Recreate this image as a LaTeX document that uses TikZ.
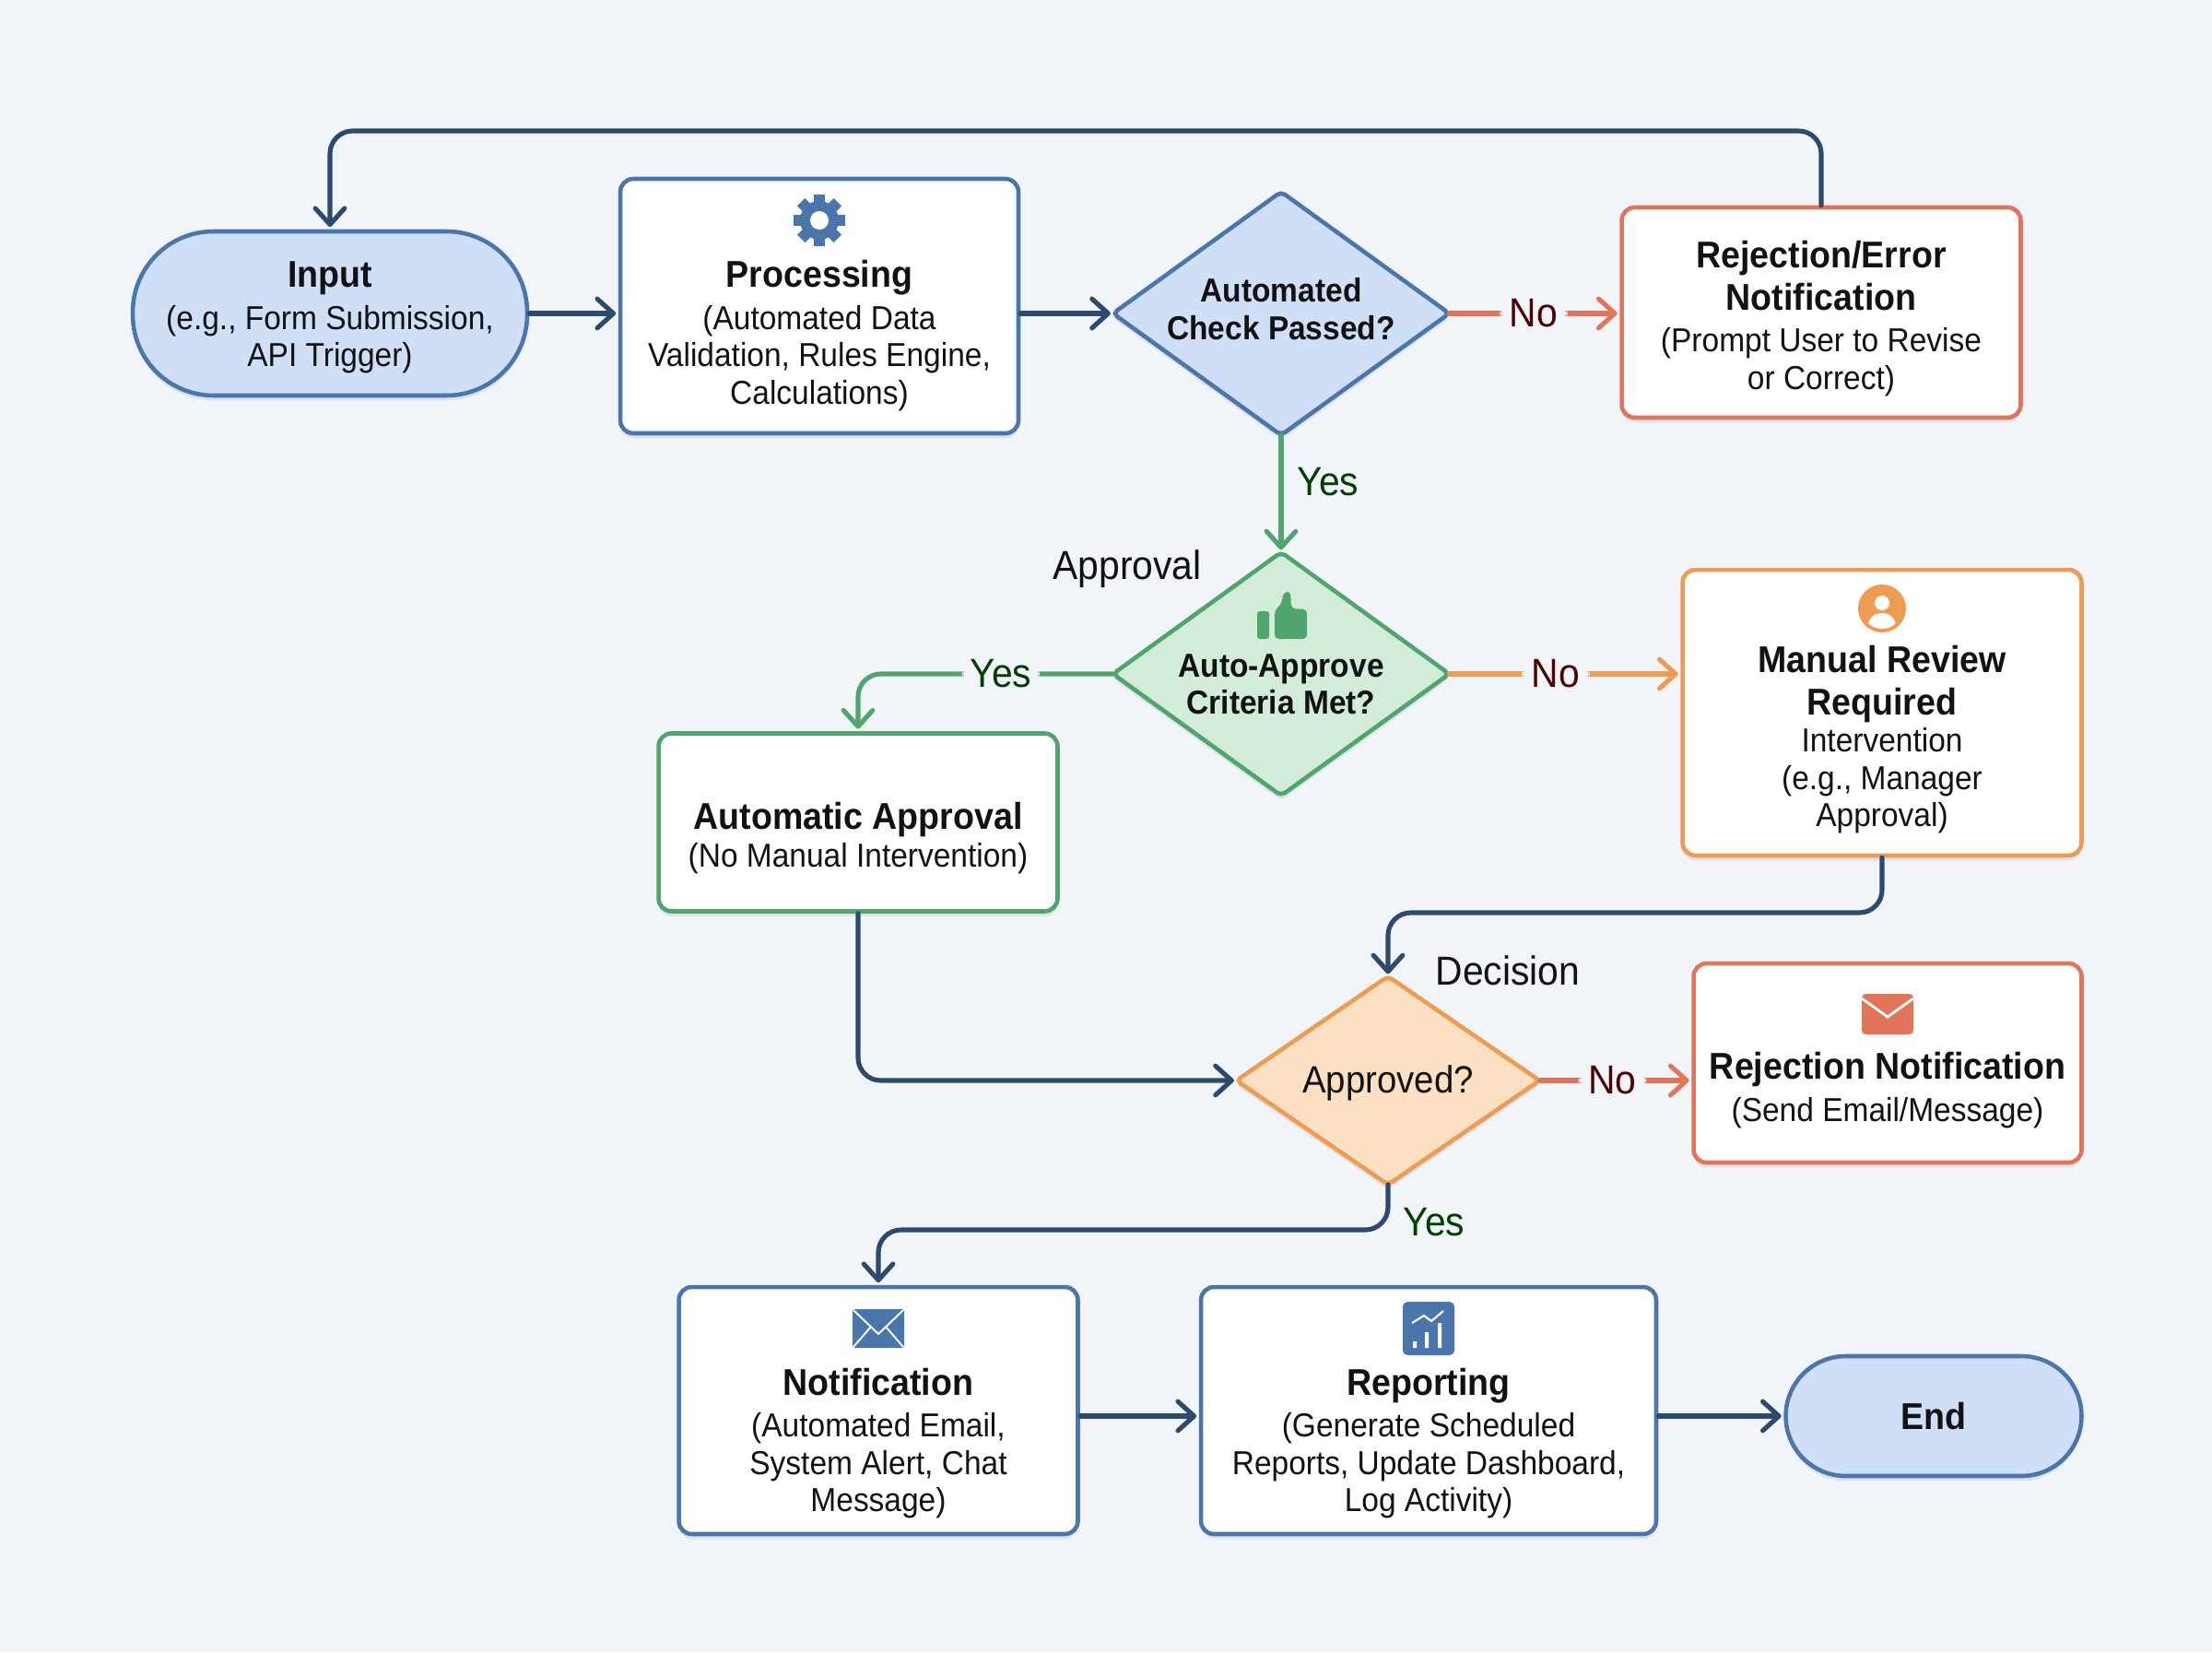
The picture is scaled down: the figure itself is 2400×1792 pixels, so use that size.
\documentclass[tikz,border=0pt]{standalone}
\usepackage{fontspec}
\setmainfont{Liberation Sans}[FakeStretch=0.93]
\usetikzlibrary{arrows.meta, shapes.geometric, shadows}

\definecolor{bgc}{HTML}{F1F4F9}
\definecolor{navy}{HTML}{2C4A6E}
\definecolor{blueline}{HTML}{4A76AC}
\definecolor{bluefill}{HTML}{CFDFF7}
\definecolor{greenline}{HTML}{4FA56C}
\definecolor{greenfill}{HTML}{D2ECD9}
\definecolor{orangeline}{HTML}{EE9C52}
\definecolor{orangefill}{HTML}{FCE0C4}
\definecolor{redline}{HTML}{E2745A}

\newcommand{\ttl}[1]{{\fontsize{23}{26}\selectfont\bfseries #1}}
\newcommand{\iconsp}[1]{\mbox{}\\[#1]}

\tikzset{
  gearicon/.pic={
    \foreach \a in {0,45,...,315} \fill[blueline, rotate=\a] (-6,-28) rectangle (6,-15);
    \fill[blueline] (0,0) circle (21);
    \fill[white] (0,0) circle (10);
  },
  thumbicon/.pic={
    \fill[greenline, rounded corners=1.5pt] (-26,-4) rectangle (-13,26);
    \fill[greenline, rounded corners=2.5pt] (-7,26) -- (-7,-5) -- (1,-13) -- (2,-24) -- (10,-26) -- (11,-7) -- (28,-6) -- (28,26) -- cycle;
  },
  personicon/.pic={
    \fill[orangeline] (0,0) circle (26);
    \begin{scope}
      \clip (0,0) circle (22);
      \fill[white] (0,-6) circle (8);
      \fill[white] (0,18) ellipse (15 and 13);
    \end{scope}
  },
  mailicon/.pic={
    \fill[redline, rounded corners=2.5pt] (-28,-22) rectangle (28,22);
    \draw[white, line width=1.6pt] (-28,-17) -- (0,3) -- (28,-17);
  },
  bluemailicon/.pic={
    \fill[blueline, rounded corners=1.5pt] (-28,-21) rectangle (28,21);
    \draw[white, line width=1.1pt] (-27,-20) -- (0,6) -- (27,-20) (-27,20) -- (-8,-2) (27,20) -- (8,-2);
  },
  charticon/.pic={
    \fill[blueline, rounded corners=3pt] (-28,-29) rectangle (28,29);
    \fill[white] (-17,14) rectangle (-13,21) (-4,4) rectangle (0,21) (10,-6) rectangle (14,21);
    \draw[white, line width=1.2pt] (-18,-6) -- (-5,-14) -- (3,-8) -- (16,-19);
  },
}

\begin{document}
\begin{tikzpicture}[x=0.02cm, y=-0.02cm,
  softshadow/.style={drop shadow={shadow xshift=0pt, shadow yshift=-3pt, opacity=.10, fill=navy}},
  basebox/.style={draw, line width=2.6pt, rounded corners=8pt, align=center, inner sep=0pt, text=black!93, softshadow, font=\fontsize{20.5}{23}\selectfont},
  bluebox/.style={basebox, draw=blueline, fill=white},
  redbox/.style={basebox, draw=redline, fill=white},
  orangebox/.style={basebox, draw=orangeline, fill=white},
  greenbox/.style={basebox, draw=greenline, fill=white},
  capsule/.style={basebox, draw=blueline, fill=bluefill, rounded corners=1.75cm},
  gate/.style={diamond, draw, line width=2.6pt, rounded corners=3pt, inner sep=0pt, outer sep=0pt, softshadow},
  gatetext/.style={align=center, inner sep=0pt, text=black!93, font=\fontsize{20.5}{23}\selectfont},
  flow/.style={-{Straight Barb[round, length=10pt, width=18pt]}, line width=2.9pt, line cap=round, rounded corners=14pt, shorten >=1.5pt},
  note/.style={inner sep=0pt, font=\fontsize{25}{28}\selectfont, text=black!93},
  nolab/.style={fill=bgc, inner xsep=6pt, inner ysep=1pt, text=red!30!black, font=\fontsize{25}{28}\selectfont},
  yeslab/.style={fill=bgc, inner xsep=5pt, inner ysep=1pt, text=green!25!black, font=\fontsize{25}{28}\selectfont},
]
  \fill[bgc] (0,0) rectangle (2400,1792);
  \useasboundingbox (0,0) rectangle (2400,1792);

  % top row
  \node[capsule, minimum width=8.56cm, minimum height=3.56cm] (input) at (358,340) {\iconsp{-2pt}\ttl{Input}\\[3pt](e.g., Form Submission,\\API Trigger)};
  \node[bluebox, minimum width=8.64cm, minimum height=5.52cm] (proc) at (889,332) {\iconsp{30pt}\ttl{Processing}\\[3pt](Automated Data\\Validation, Rules Engine,\\Calculations)};
  \node[gate, draw=blueline, fill=bluefill, minimum width=7.3cm, minimum height=5.28cm] (check) at (1390,340) {};
  \node[gatetext] (checktext) at (1390,335) {\textbf{Automated}\\\textbf{Check Passed?}};
  \node[redbox, minimum width=8.66cm, minimum height=4.56cm] (rej) at (1976,339) {\iconsp{1pt}\ttl{Rejection/Error}\\[3pt]\ttl{Notification}\\[3pt](Prompt User to Revise\\or Correct)};

  % middle row
  \node[gate, draw=greenline, fill=greenfill, minimum width=7.3cm, minimum height=5.28cm] (approve) at (1390,731) {};
  \node[gatetext] (approvetext) at (1390,742) {\textbf{Auto-Approve}\\\textbf{Criteria Met?}};
  \node[note] (approvenote) at (1223,617) {Approval};
  \node[orangebox, minimum width=8.66cm, minimum height=6.2cm] (manual) at (2042,773) {\iconsp{27pt}\ttl{Manual Review}\\[3pt]\ttl{Required}\\Intervention\\(e.g., Manager\\Approval)};
  \node[greenbox, minimum width=8.66cm, minimum height=3.86cm] (auto) at (931,892) {\iconsp{13pt}\ttl{Automatic Approval}\\(No Manual Intervention)};

  % decision row
  \node[gate, draw=orangeline, fill=orangefill, minimum width=6.58cm, minimum height=4.52cm] (decide) at (1506,1172) {};
  \node[gatetext, font=\fontsize{23.5}{26}\selectfont] (decidetext) at (1506,1175) {Approved?};
  \node[note] (decidenote) at (1636,1053) {Decision};
  \node[redbox, minimum width=8.42cm, minimum height=4.32cm] (rejn) at (2048,1153) {\iconsp{27pt}\ttl{Rejection Notification}\\[3pt](Send Email/Message)};

  % bottom row
  \node[bluebox, minimum width=8.66cm, minimum height=5.36cm] (notif) at (953,1530) {\iconsp{34pt}\ttl{Notification}\\[3pt](Automated Email,\\System Alert, Chat\\Message)};
  \node[bluebox, minimum width=9.88cm, minimum height=5.36cm] (report) at (1550,1530) {\iconsp{34pt}\ttl{Reporting}\\[3pt](Generate Scheduled\\Reports, Update Dashboard,\\Log Activity)};
  \node[capsule, minimum width=6.42cm, minimum height=2.6cm, rounded corners=1.3cm] (fin) at (2098,1536) {\ttl{End}};

  % icons
  \pic at (889,239) {gearicon};
  \pic at (1390,667) {thumbicon};
  \pic at (2042,660) {personicon};
  \pic at (2048,1100) {mailicon};
  \pic at (953,1441) {bluemailicon};
  \pic at (1550,1441) {charticon};

  % bends
  \coordinate (topbend) at (1200,142);
  \coordinate (manualbend) at (1700,990);
  \coordinate (yesbend) at (1200,1334);

  \draw[flow, navy] (input.east) -- (input.east -| proc.west);
  \draw[flow, navy] (check.west -| proc.east) -- (check.west);
  \draw[flow, navy] (rej.north) |- (topbend) -| (input.north);
  \draw[flow, redline] (check.east) -- node[nolab, pos=.495] (nocheck) {No} (check.east -| rej.west);
  \draw[flow, greenline] (check.south) -- (approve.north);
  \node[yeslab, fill=none] (yescheck) at (1441,523) {Yes};
  \draw[flow, greenline] (approve.west) -| node[yeslab, pos=.22] (yesapprove) {Yes} (auto.north);
  \draw[flow, orangeline] (approve.east) -- node[nolab, pos=.46] (noapprove) {No} (approve.east -| manual.west);
  \draw[flow, navy] (manual.south) |- (manualbend) -| (decide.north);
  \draw[flow, navy] (auto.south) |- (decide.west);
  \draw[flow, redline] (decide.east) -- node[nolab, pos=.48] (nodecide) {No} (decide.east -| rejn.west);
  \draw[flow, navy] (decide.south) |- (yesbend) -| (notif.north);
  \node[yeslab, fill=none] (yesdecide) at (1556,1326) {Yes};
  \draw[flow, navy] (notif.east |- fin.west) -- (report.west |- fin.west);
  \draw[flow, navy] (report.east |- fin.west) -- (fin.west);
\end{tikzpicture}
\end{document}
